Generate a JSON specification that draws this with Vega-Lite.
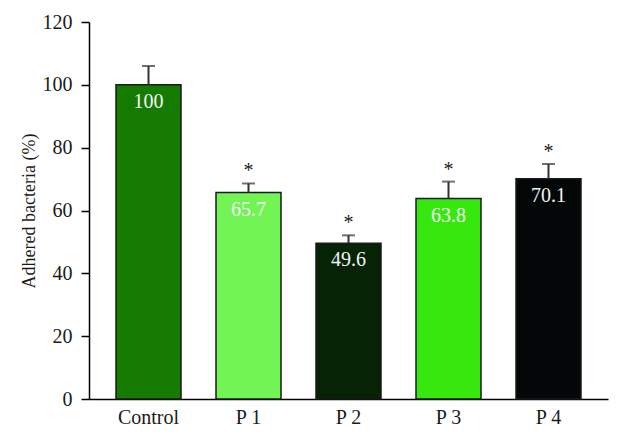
{
  "$schema": "https://vega.github.io/schema/vega-lite/v6.json",
  "width": 519,
  "height": 377,
  "autosize": "none",
  "padding": {"left": 89, "top": 22, "right": 28, "bottom": 39},
  "background": "white",
  "config": {
    "view": {"stroke": null},
    "font": "serif"
  },
  "data": {
    "values": [
      {"group": "Control", "value": 100, "upper": 106, "label": "100", "sig": ""},
      {"group": "P 1", "value": 65.7, "upper": 68.6, "label": "65.7", "sig": "*"},
      {"group": "P 2", "value": 49.6, "upper": 52.1, "label": "49.6", "sig": "*"},
      {"group": "P 3", "value": 63.8, "upper": 69.2, "label": "63.8", "sig": "*"},
      {"group": "P 4", "value": 70.1, "upper": 74.8, "label": "70.1", "sig": "*"}
    ]
  },
  "encoding": {
    "x": {
      "field": "group",
      "type": "nominal",
      "sort": null,
      "scale": {"paddingInner": 0.35, "paddingOuter": 0.27},
      "axis": {
        "title": null,
        "labelAngle": 0,
        "ticks": false,
        "labelPadding": 8,
        "labelFont": "serif",
        "labelFontSize": 20,
        "labelColor": "#1a1a1a",
        "domainColor": "#000000",
        "domainWidth": 1.5
      }
    }
  },
  "layer": [
    {
      "mark": {"type": "bar", "stroke": "#1a1a1a", "strokeWidth": 1.5},
      "encoding": {
        "y": {
          "field": "value",
          "type": "quantitative",
          "scale": {"domain": [0, 120], "nice": false},
          "axis": {
            "title": "Adhered bacteria (%)",
            "values": [0, 20, 40, 60, 80, 100, 120],
            "grid": false,
            "tickSize": 8,
            "tickColor": "#000000",
            "tickWidth": 1.5,
            "domainColor": "#000000",
            "domainWidth": 1.5,
            "labelPadding": 9,
            "labelFont": "serif",
            "labelFontSize": 20,
            "labelColor": "#1a1a1a",
            "titleFont": "serif",
            "titleFontSize": 18,
            "titleFontWeight": "normal",
            "titleColor": "#1a1a1a",
            "titlePadding": 4
          }
        },
        "color": {
          "field": "group",
          "type": "nominal",
          "scale": {
            "domain": ["Control", "P 1", "P 2", "P 3", "P 4"],
            "range": ["#147b00", "#72f454", "#062306", "#37e80e", "#030707"]
          },
          "legend": null
        }
      }
    },
    {
      "mark": {"type": "rule", "color": "#333333", "strokeWidth": 2},
      "encoding": {
        "y": {"field": "value", "type": "quantitative"},
        "y2": {"field": "upper"}
      }
    },
    {
      "mark": {"type": "tick", "color": "#333333", "thickness": 2, "size": 13},
      "encoding": {
        "y": {"field": "upper", "type": "quantitative"}
      }
    },
    {
      "mark": {"type": "text", "color": "#f4f4f4", "font": "serif", "fontSize": 20, "baseline": "middle", "dy": 17},
      "encoding": {
        "y": {"field": "value", "type": "quantitative"},
        "text": {"field": "label", "type": "nominal"}
      }
    },
    {
      "mark": {"type": "text", "color": "#222222", "font": "serif", "fontSize": 20, "baseline": "middle", "dy": -12},
      "encoding": {
        "y": {"field": "upper", "type": "quantitative"},
        "text": {"field": "sig", "type": "nominal"}
      }
    }
  ]
}
